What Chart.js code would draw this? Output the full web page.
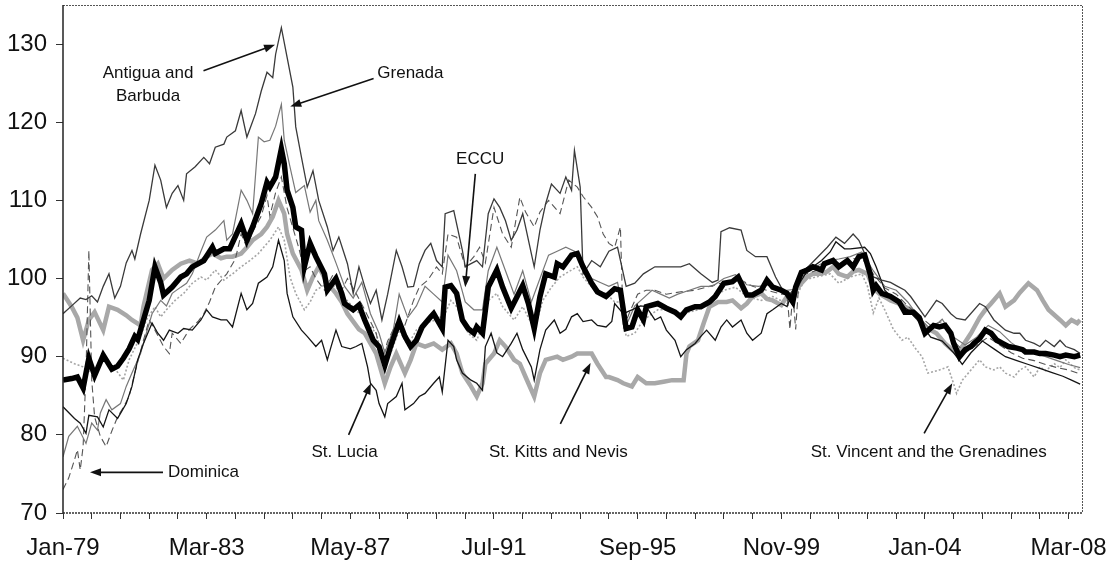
<!DOCTYPE html>
<html>
<head>
<meta charset="utf-8">
<script src="https://cdn.jsdelivr.net/npm/chart.js@4.4.1/dist/chart.umd.min.js"></script>
<style>
  html, body { margin: 0; padding: 0; background: #fff; }
  #wrap { width: 1116px; height: 565px; }
</style>
</head>
<body>
<div id="wrap"><canvas id="rerChart" width="1116" height="565"></canvas></div>
<script>
// months since Jan-79, index value
var tickLabels = ['Jan-79', 'Mar-83', 'May-87', 'Jul-91', 'Sep-95', 'Nov-99', 'Jan-04', 'Mar-08'];

var eccu = [[0,87.0],[3,87.2],[5,87.4],[7,86.0],[9,89.8],[11,87.6],[14,90.2],[17,88.4],[19,88.8],[21,89.8],[23,91.0],[25,92.6],[26,92.2],[28,94.7],[30,97.2],[32,101.5],[34,99.5],[35,97.9],[38,98.9],[41,100.2],[43,100.6],[45,101.5],[49,102.3],[52,104.0],[53,103.2],[56,103.8],[58,103.8],[62,107.0],[64,104.9],[66,106.6],[69,109.6],[71,112.3],[72,111.7],[74,113.0],[76,116.6],[77,114.7],[78,111.3],[80,109.1],[81,106.6],[83,106.2],[84,101.5],[86,104.5],[88,102.8],[91,100.6],[92,98.5],[95,100.0],[97,98.1],[98,96.8],[101,96.0],[103,96.6],[105,94.7],[108,92.1],[110,91.3],[112,88.9],[114,91.3],[117,94.5],[119,92.6],[121,91.3],[123,92.1],[125,93.8],[128,95.1],[129,95.5],[132,93.6],[133,98.9],[135,99.1],[137,98.1],[139,94.7],[141,93.6],[143,93.0],[144,93.8],[146,93.0],[148,98.9],[151,101.1],[153,98.9],[156,96.2],[160,99.1],[162,96.8],[164,93.6],[166,97.7],[168,100.6],[171,100.2],[172,101.9],[174,101.5],[177,103.0],[179,103.2],[181,101.5],[184,99.4],[186,98.3],[189,97.7],[192,98.7],[194,98.5],[196,93.6],[198,93.8],[200,96.0],[202,94.7],[203,96.4],[207,96.8],[210,96.2],[213,95.7],[215,95.1],[217,96.0],[220,96.4],[222,96.4],[225,97.0],[227,97.7],[230,99.4],[233,99.6],[235,100.2],[238,97.9],[240,97.9],[243,98.5],[245,99.8],[247,98.9],[250,98.5],[252,98.1],[254,97.0],[255,98.9],[257,100.8],[259,101.1],[261,101.5],[264,101.1],[265,101.9],[268,102.3],[270,101.5],[273,102.3],[275,101.5],[277,102.8],[279,103.0],[281,100.5],[282,98.5],[283,99.1],[285,98.1],[288,97.7],[291,97.0],[293,95.7],[296,95.7],[298,95.0],[300,93.0],[303,94.0],[305,93.8],[307,94.0],[309,93.0],[310,91.7],[312,90.0],[314,90.9],[316,91.3],[317,91.7],[319,92.3],[321,93.4],[323,93.0],[325,92.1],[327,91.7],[329,91.3],[332,91.1],[334,90.9],[335,90.6],[338,90.6],[340,90.4],[342,90.4],[345,90.2],[347,90.0],[349,90.2],[352,90.0],[354,90.2]];

var antigua = [[0,95.5],[3,96.5],[6,97.5],[8,97.3],[10,97.8],[12,97.0],[14,99.0],[16,100.6],[18,97.5],[20,99.0],[22,102.0],[24,103.6],[25,102.5],[27,105.7],[30,110.0],[32,114.5],[34,112.6],[36,109.1],[38,110.9],[40,111.9],[42,110.0],[43,113.4],[46,114.3],[49,115.5],[51,114.7],[53,116.8],[56,117.2],[57,118.1],[60,118.9],[62,121.5],[64,118.1],[67,121.1],[69,124.0],[71,126.4],[73,125.7],[74,128.7],[76,132.1],[78,128.3],[80,124.5],[81,119.4],[83,115.5],[85,111.7],[87,113.8],[89,110.0],[92,106.6],[94,103.6],[96,105.3],[99,101.9],[101,98.1],[103,101.5],[105,99.0],[107,96.8],[109,98.5],[111,94.7],[113,98.0],[116,103.6],[118,101.5],[120,98.9],[122,99.0],[124,101.9],[126,103.6],[128,104.5],[130,102.3],[132,101.5],[133,108.3],[136,108.7],[139,103.6],[140,101.5],[142,101.9],[144,102.3],[146,101.5],[148,108.3],[150,110.2],[152,109.1],[154,107.4],[156,104.9],[158,106.2],[160,108.3],[163,103.2],[164,101.5],[166,106.2],[168,109.6],[170,112.1],[173,110.9],[175,113.0],[177,111.3],[178,116.4],[180,111.7],[181,100.6],[184,102.3],[187,101.5],[190,103.5],[193,104.0],[196,99.0],[199,99.4],[202,100.6],[206,101.5],[210,101.5],[215,101.5],[218,101.9],[222,100.6],[226,99.5],[228,99.8],[229,106.0],[232,106.5],[236,106.2],[238,103.6],[241,102.8],[245,102.8],[248,100.2],[252,97.5],[255,99.0],[258,101.0],[262,102.5],[266,104.0],[269,105.3],[272,104.5],[275,105.7],[277,104.9],[279,103.2],[282,100.2],[285,99.8],[288,99.5],[290,99.1],[293,98.5],[295,97.7],[300,95.1],[304,97.2],[306,96.8],[309,95.5],[311,94.9],[314,94.7],[319,96.8],[321,96.4],[324,94.7],[328,93.4],[331,93.0],[333,93.0],[335,92.1],[338,91.7],[340,91.3],[342,92.1],[345,91.3],[347,92.1],[349,91.3],[352,90.9],[354,90.4]];

var grenada = [[0,77.2],[2,79.8],[5,81.1],[8,78.9],[10,81.5],[12,80.6],[13,82.8],[15,84.5],[17,83.2],[20,84.0],[22,86.2],[24,87.9],[27,90.4],[29,93.0],[31,95.5],[34,97.2],[36,96.5],[38,98.1],[41,98.9],[43,99.4],[45,100.6],[48,103.5],[50,105.3],[53,106.2],[56,107.4],[57,104.9],[59,105.7],[62,111.3],[64,110.0],[66,108.3],[68,118.1],[70,117.5],[72,117.7],[74,119.5],[76,122.3],[77,117.7],[79,114.3],[81,111.0],[84,111.9],[86,108.5],[88,110.0],[89,107.4],[92,104.9],[95,102.0],[98,99.0],[101,97.5],[104,99.5],[107,95.5],[110,93.0],[112,90.5],[115,93.5],[117,98.0],[120,95.0],[123,96.5],[126,99.0],[129,98.0],[132,97.0],[134,103.0],[137,101.0],[140,97.0],[143,96.0],[146,96.0],[148,101.0],[151,104.0],[154,101.0],[157,98.0],[160,101.0],[163,97.0],[166,100.0],[169,103.0],[172,103.5],[175,104.0],[178,103.5],[181,102.0],[184,100.0],[187,99.5],[190,99.0],[193,99.5],[196,94.0],[199,96.5],[202,97.5],[205,98.5],[208,98.0],[211,97.5],[214,98.0],[218,98.5],[222,99.0],[226,99.0],[230,100.0],[234,100.5],[238,99.2],[242,99.0],[246,99.2],[250,98.4],[254,98.6],[258,101.0],[262,101.5],[266,102.3],[270,102.5],[274,102.8],[278,103.4],[282,101.0],[286,99.0],[290,98.5],[294,97.0],[298,95.0],[302,93.5],[306,94.8],[310,92.5],[314,91.5],[318,92.5],[322,94.0],[326,93.2],[330,91.8],[334,90.8],[338,90.5],[342,90.0],[346,89.5],[350,89.0],[354,88.6]];

var dominica = [[0,73.0],[2,74.5],[4,76.8],[5,78.1],[6,75.5],[7,78.5],[8,88.0],[9,103.6],[10,87.0],[11,82.3],[13,79.8],[15,78.5],[17,80.5],[19,82.3],[21,83.5],[23,84.9],[25,87.9],[28,92.1],[30,94.7],[32,93.4],[35,91.3],[37,90.4],[38,93.0],[41,91.7],[44,93.5],[47,94.5],[49,95.5],[51,97.0],[53,98.9],[57,100.6],[60,102.5],[62,105.7],[64,104.0],[66,106.0],[69,108.0],[71,110.6],[72,108.0],[74,111.0],[76,113.0],[78,109.0],[80,106.5],[82,104.0],[84,101.0],[86,101.5],[88,100.0],[91,98.5],[94,100.5],[97,98.5],[99,100.0],[102,98.1],[105,96.0],[109,93.0],[111,89.6],[113,92.0],[116,94.3],[118,93.0],[122,97.2],[124,98.9],[127,99.8],[130,101.5],[132,100.6],[134,105.7],[137,105.3],[138,104.0],[140,101.5],[143,102.8],[145,104.0],[147,102.0],[150,109.1],[153,105.7],[156,104.0],[159,110.4],[161,108.5],[164,106.6],[166,108.5],[169,110.0],[173,108.3],[176,112.6],[179,111.7],[181,110.5],[184,109.1],[186,107.9],[188,105.7],[190,104.5],[192,104.0],[194,106.6],[195,93.6],[197,95.5],[200,98.0],[203,98.5],[206,98.5],[210,98.0],[215,98.3],[220,98.5],[225,99.0],[230,99.5],[235,100.0],[240,99.0],[245,98.5],[250,98.0],[252,98.0],[253,93.5],[254,98.0],[255,93.5],[256,99.0],[258,100.5],[262,101.0],[266,101.8],[270,102.0],[274,102.5],[278,102.6],[282,100.6],[286,98.8],[290,98.0],[294,96.5],[298,95.2],[302,94.0],[306,94.5],[310,92.0],[314,90.5],[318,91.5],[322,92.5],[326,91.5],[330,90.5],[334,89.8],[338,89.5],[342,89.0],[346,88.6],[350,88.3],[354,87.8]];

var stLucia = [[0,83.6],[4,82.1],[6,81.5],[8,80.2],[9,82.5],[12,82.3],[14,81.0],[16,83.2],[19,82.1],[22,84.0],[24,86.2],[26,89.6],[28,91.7],[31,94.3],[33,93.0],[35,92.1],[37,93.4],[40,93.0],[42,93.6],[45,93.4],[48,94.7],[50,96.0],[52,95.1],[55,94.7],[57,94.7],[59,93.8],[62,98.1],[64,96.0],[66,96.8],[68,99.4],[71,100.2],[73,101.5],[75,104.9],[77,102.3],[78,98.1],[80,95.1],[83,93.4],[85,92.6],[88,91.3],[90,92.1],[92,89.6],[93,90.9],[95,93.4],[97,91.3],[100,91.0],[102,91.3],[104,91.7],[106,88.7],[107,86.6],[109,85.7],[110,84.0],[112,82.3],[113,84.0],[116,84.9],[118,86.6],[119,83.2],[122,84.0],[124,84.9],[126,85.3],[129,86.6],[131,87.4],[132,85.5],[134,92.1],[136,91.3],[137,89.6],[139,87.9],[142,87.0],[144,86.6],[146,85.7],[147,91.3],[149,93.0],[151,90.5],[153,90.0],[156,91.7],[158,93.0],[160,90.9],[163,88.7],[164,87.0],[166,90.9],[168,93.4],[171,94.7],[173,93.0],[175,93.5],[177,95.1],[179,95.5],[181,94.5],[184,94.7],[186,94.0],[189,93.8],[191,94.5],[192,96.8],[195,95.5],[198,96.0],[201,96.5],[203,96.4],[206,94.7],[208,95.1],[210,93.4],[213,92.1],[215,90.0],[217,90.9],[220,91.7],[222,92.6],[224,93.4],[227,92.1],[229,93.8],[231,94.7],[233,93.8],[236,94.7],[238,93.0],[240,92.1],[243,93.0],[245,95.5],[247,96.0],[250,96.8],[252,96.4],[254,98.5],[257,99.8],[259,100.9],[261,101.5],[264,102.3],[267,103.4],[269,104.7],[272,103.8],[274,103.8],[279,104.0],[281,103.2],[283,101.5],[286,98.5],[290,97.0],[294,96.0],[298,94.5],[302,92.5],[306,92.0],[310,90.5],[313,89.0],[316,90.5],[320,92.0],[324,91.0],[328,90.0],[332,89.5],[336,89.0],[340,88.5],[344,88.0],[348,87.5],[351,87.0],[354,86.5]];

var stKitts = [[0,98.1],[3,96.4],[5,95.0],[7,92.1],[9,94.7],[11,95.7],[14,93.4],[16,96.4],[19,96.0],[22,95.3],[24,94.7],[27,94.0],[28,96.4],[31,101.1],[33,101.9],[35,100.0],[38,101.1],[41,101.9],[44,102.3],[47,101.9],[50,102.8],[52,103.2],[55,102.6],[57,102.8],[59,102.8],[62,103.2],[64,104.0],[66,104.9],[69,105.7],[71,106.6],[73,107.9],[75,110.0],[77,108.3],[78,105.7],[80,103.2],[83,101.1],[85,98.5],[87,100.2],[89,101.5],[92,99.4],[95,98.1],[97,97.0],[99,95.5],[103,93.5],[105,93.0],[109,90.4],[112,86.6],[114,88.7],[116,90.4],[119,87.9],[121,89.6],[123,91.7],[126,91.3],[129,91.7],[132,90.9],[135,91.7],[137,90.4],[139,87.9],[142,86.2],[144,84.9],[146,86.6],[147,89.1],[150,90.4],[152,92.1],[154,91.3],[157,89.6],[159,89.1],[161,87.4],[164,84.9],[166,87.9],[168,89.6],[172,90.0],[174,89.6],[177,90.0],[179,90.4],[181,90.4],[184,90.4],[186,89.1],[189,87.4],[190,87.4],[193,87.0],[195,86.6],[198,86.2],[200,87.4],[203,86.6],[206,86.6],[209,86.8],[212,87.0],[216,87.0],[217,90.4],[218,91.3],[221,92.1],[223,94.3],[225,96.4],[228,97.0],[231,97.0],[233,97.2],[236,96.2],[238,96.8],[240,97.7],[243,98.1],[245,97.4],[247,97.2],[250,96.6],[252,97.7],[254,98.1],[257,99.4],[259,100.2],[261,100.6],[264,100.6],[266,100.9],[268,101.5],[270,100.6],[273,100.2],[275,100.9],[277,101.1],[280,100.6],[282,98.8],[284,98.1],[288,97.2],[291,96.8],[295,96.0],[298,94.7],[300,93.8],[304,93.0],[307,91.7],[311,90.4],[313,91.3],[316,93.0],[319,95.0],[321,96.0],[323,96.8],[326,98.1],[328,96.4],[331,97.2],[333,98.2],[336,99.4],[339,98.5],[341,97.2],[343,96.0],[347,94.7],[349,94.0],[351,94.7],[353,94.3],[354,94.7]];

var stVincent = [[0,89.8],[4,89.1],[7,88.7],[10,87.9],[14,89.6],[18,88.5],[21,87.0],[23,89.6],[27,92.6],[29,94.7],[32,96.4],[34,95.1],[36,96.0],[39,97.2],[42,98.1],[45,99.4],[48,100.2],[50,99.8],[53,101.1],[56,99.8],[59,100.6],[62,101.5],[65,102.3],[68,103.2],[72,104.9],[75,106.6],[77,104.9],[79,100.2],[81,98.1],[84,96.0],[86,97.0],[88,98.5],[92,99.4],[95,98.9],[98,97.5],[102,96.0],[105,94.7],[109,93.0],[112,88.7],[114,90.4],[117,93.4],[120,91.5],[123,93.4],[126,94.3],[130,94.7],[133,95.5],[135,97.2],[137,96.4],[139,94.7],[141,93.0],[144,92.1],[146,94.0],[148,97.2],[151,98.1],[153,96.4],[157,94.7],[160,96.4],[163,94.3],[164,93.4],[167,97.2],[170,98.9],[173,100.2],[177,101.1],[179,101.5],[181,100.2],[185,98.5],[189,98.1],[192,97.0],[194,97.0],[196,92.6],[199,93.0],[202,94.7],[207,96.0],[211,96.0],[216,95.5],[221,96.0],[225,97.2],[230,98.5],[234,98.9],[238,97.7],[243,97.2],[247,97.7],[252,96.8],[255,97.5],[258,99.8],[262,100.2],[267,100.6],[270,99.4],[274,100.2],[278,100.6],[280,99.0],[282,95.6],[284,97.5],[286,96.0],[289,93.5],[292,92.1],[294,92.5],[297,90.9],[299,90.0],[301,87.9],[305,88.3],[308,88.7],[310,86.5],[311,85.3],[313,87.0],[316,88.3],[319,89.6],[321,88.7],[324,88.3],[326,88.7],[328,87.9],[331,87.4],[333,88.3],[335,88.7],[338,87.4],[340,88.7],[342,88.2],[345,89.1],[347,88.6],[349,89.6],[352,88.6],[354,88.3]];

// callouts: text centre and arrow tail/tip in chart units (month, index)
var callouts = [
    { lines: ['Antigua and', 'Barbuda'], at: [29.6, 126.3], from: [48.9, 126.6], to: [73.8, 129.9] },
    { lines: ['Grenada'], at: [120.9, 126.3], from: [108.1, 125.6], to: [79.1, 122.0] },
    { lines: ['ECCU'], at: [145.2, 115.3], from: [143.5, 113.4], to: [140.0, 98.9] },
    { lines: ['St. Lucia'], at: [98.0, 77.8], from: [99.4, 80.0], to: [107.2, 86.6] },
    { lines: ['St. Kitts and Nevis'], at: [172.4, 77.8], from: [173.1, 81.4], to: [183.6, 89.2] },
    { lines: ['St. Vincent and the Grenadines'], at: [301.3, 77.8], from: [299.7, 80.2], to: [309.5, 86.6] },
    { lines: ['Dominica'], at: [48.9, 75.2], from: [34.8, 75.2], to: [9.4, 75.2] }
];

var FONT = "'Liberation Sans', Arial, Helvetica, sans-serif";

function toXY(series) {
    return series.map(function (p) { return { x: p[0], y: p[1] }; });
}

function drawArrow(ctx, x1, y1, x2, y2) {
    var ang = Math.atan2(y2 - y1, x2 - x1);
    var len = 11, half = 4;
    ctx.beginPath();
    ctx.moveTo(x1, y1);
    ctx.lineTo(x2 - Math.cos(ang) * len * 0.8, y2 - Math.sin(ang) * len * 0.8);
    ctx.stroke();
    ctx.beginPath();
    ctx.moveTo(x2, y2);
    ctx.lineTo(x2 - Math.cos(ang) * len - Math.sin(ang) * half, y2 - Math.sin(ang) * len + Math.cos(ang) * half);
    ctx.lineTo(x2 - Math.cos(ang) * len + Math.sin(ang) * half, y2 - Math.sin(ang) * len - Math.cos(ang) * half);
    ctx.closePath();
    ctx.fill();
}

var frameAndNotes = {
    id: 'frameAndNotes',
    afterDraw: function (chart) {
        var ctx = chart.ctx;
        var a = chart.chartArea;
        var xs = chart.scales.x, ys = chart.scales.y;
        ctx.save();
        // dotted frame, solid value axis
        ctx.strokeStyle = '#555';
        ctx.lineWidth = 1;
        ctx.setLineDash([2, 1]);
        ctx.beginPath();
        ctx.moveTo(a.left, a.top + 0.5);
        ctx.lineTo(a.right - 0.5, a.top + 0.5);
        ctx.lineTo(a.right - 0.5, a.bottom);
        ctx.stroke();
        ctx.strokeStyle = '#333';
        ctx.lineWidth = 1.5;
        ctx.beginPath();
        ctx.moveTo(a.left, a.bottom);
        ctx.lineTo(a.right, a.bottom);
        ctx.stroke();
        ctx.setLineDash([]);
        ctx.strokeStyle = '#222';
        ctx.beginPath();
        ctx.moveTo(a.left, a.top);
        ctx.lineTo(a.left, a.bottom);
        ctx.stroke();

        ctx.fillStyle = '#111';
        ctx.strokeStyle = '#111';
        ctx.lineWidth = 1.6;
        ctx.font = '17px ' + FONT;
        ctx.textAlign = 'center';
        ctx.textBaseline = 'middle';
        callouts.forEach(function (c) {
            var cx = xs.getPixelForValue(c.at[0]);
            var cy = ys.getPixelForValue(c.at[1]);
            c.lines.forEach(function (t, i) {
                ctx.fillText(t, cx, cy + i * 23);
            });
            drawArrow(ctx,
                xs.getPixelForValue(c.from[0]), ys.getPixelForValue(c.from[1]),
                xs.getPixelForValue(c.to[0]), ys.getPixelForValue(c.to[1]));
        });
        ctx.restore();
    }
};

function line(label, series, color, width, dash) {
    return {
        label: label,
        data: toXY(series),
        borderColor: color,
        borderWidth: width,
        borderDash: dash || [],
        pointRadius: 0,
        tension: 0,
        fill: false
    };
}

document.addEventListener('DOMContentLoaded', function () {
    var ctx = document.getElementById('rerChart').getContext('2d');
    new Chart(ctx, {
        type: 'line',
        data: {
            datasets: [
                line('ECCU', eccu, '#000', 5.5),
                line('Antigua and Barbuda', antigua, '#3a3a3a', 1.3),
                line('St. Lucia', stLucia, '#151515', 1.3),
                line('Grenada', grenada, '#777', 1.2),
                line('Dominica', dominica, '#555', 1.1, [7, 4]),
                line('St. Vincent and the Grenadines', stVincent, '#a5a5a5', 1.6, [2, 2]),
                line('St. Kitts and Nevis', stKitts, '#a8a8a8', 4.5)
            ]
        },
        options: {
            responsive: false,
            animation: false,
            events: [],
            layout: { autoPadding: false, padding: { top: 5, right: 33, left: 0, bottom: 0 } },
            plugins: {
                legend: { display: false },
                tooltip: { enabled: false }
            },
            scales: {
                x: {
                    type: 'linear',
                    min: 0,
                    max: 355,
                    afterBuildTicks: function (axis) {
                        var t = [];
                        for (var v = 0; v <= 350; v += 10) t.push({ value: v });
                        axis.ticks = t;
                    },
                    afterFit: function (axis) {
                        axis.height = 52;
                        axis.paddingLeft = 0;
                        axis.paddingRight = 0;
                    },
                    border: { display: false },
                    grid: { drawOnChartArea: false, drawTicks: true, tickLength: 6, color: '#333' },
                    ticks: {
                        autoSkip: false,
                        maxRotation: 0,
                        minRotation: 0,
                        padding: 15,
                        color: '#111',
                        font: { family: FONT, size: 24 },
                        callback: function (value) {
                            return value % 50 === 0 ? tickLabels[value / 50] : '';
                        }
                    }
                },
                y: {
                    min: 70,
                    max: 135,
                    afterBuildTicks: function (axis) {
                        var t = [];
                        for (var v = 70; v <= 130; v += 10) t.push({ value: v });
                        axis.ticks = t;
                    },
                    afterFit: function (axis) {
                        axis.width = 63;
                        axis.paddingTop = 0;
                        axis.paddingBottom = 0;
                    },
                    border: { display: false },
                    grid: { drawOnChartArea: false, drawTicks: true, tickLength: 7, color: '#333' },
                    ticks: {
                        padding: 9,
                        color: '#111',
                        font: { family: FONT, size: 24 }
                    }
                }
            }
        },
        plugins: [frameAndNotes]
    });
});
</script>
</body>
</html>
